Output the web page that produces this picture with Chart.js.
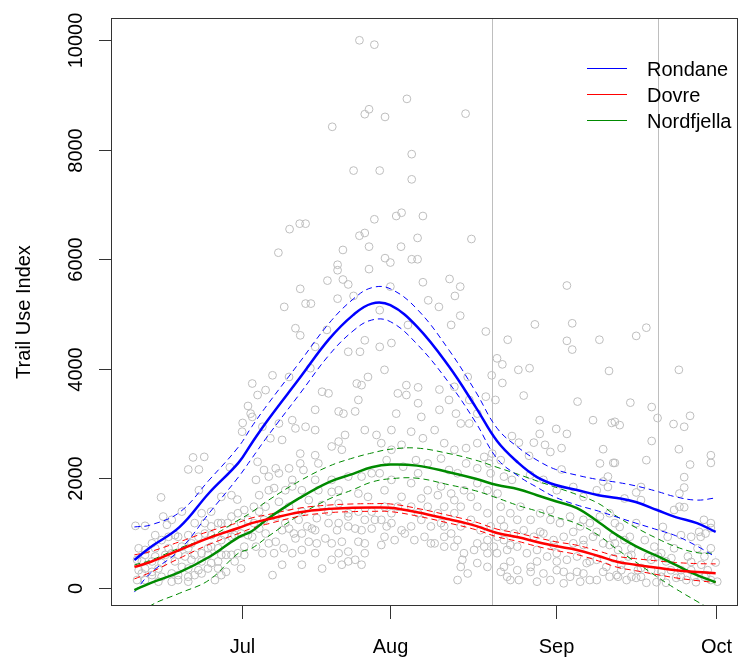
<!DOCTYPE html>
<html>
<head>
<meta charset="utf-8">
<title>Trail Use Index</title>
<script src="https://cdn.jsdelivr.net/npm/chart.js@4.4.1/dist/chart.umd.min.js"></script>
<style>
  html, body { margin: 0; padding: 0; background: #fff; overflow: hidden; }
  canvas { display: block; }
</style>
</head>
<body>
<canvas id="chart" width="742" height="657"></canvas>
<script>
// ---------- data ----------
// x = day number (Aug 1 = 61), y = trail use index
const tickDays = [33.2, 61, 92, 122];
const tickLabels = ["Jul", "Aug", "Sep", "Oct"];
const yTicks = [0, 2000, 4000, 6000, 8000, 10000];
const markerDays = [80, 111.2];

const seriesNames = ["Rondane", "Dovre", "Nordfjella"];
const seriesColors = ["#0000ff", "#ff0000", "#008a00"];

const fitDays = [13, 16, 21.5, 27, 32.5, 35, 38, 44, 49.5, 54, 57.5, 61, 66, 72, 77, 81, 85, 88.5, 92, 96, 100, 103.5, 107, 111, 114.5, 118.5, 122];

const rondaneFit   = [505, 740, 1110, 1730, 2280, 2640, 3060, 3830, 4540, 4980, 5190, 5160, 4770, 4040, 3300, 2680, 2280, 2020, 1875, 1785, 1690, 1640, 1565, 1420, 1290, 1180, 1020];
const rondaneUpper = [1110, 1145, 1380, 1965, 2570, 2940, 3350, 4120, 4830, 5270, 5480, 5460, 5090, 4340, 3580, 2915, 2560, 2330, 2160, 2055, 1975, 1925, 1860, 1760, 1660, 1600, 1640];
const rondaneLower = [-80, 265, 690, 1360, 2020, 2360, 2770, 3540, 4250, 4690, 4890, 4860, 4450, 3740, 3020, 2360, 2040, 1835, 1650, 1510, 1400, 1290, 1180, 1060, 950, 760, 560];

const dovreFit   = [380, 470, 690, 910, 1090, 1180, 1250, 1380, 1440, 1460, 1465, 1460, 1380, 1250, 1130, 1000, 920, 835, 760, 690, 580, 475, 420, 365, 320, 285, 265];
const dovreUpper = [600, 660, 840, 1030, 1190, 1275, 1335, 1455, 1510, 1530, 1535, 1530, 1450, 1320, 1200, 1070, 995, 915, 840, 775, 670, 575, 530, 490, 460, 440, 435];
const dovreLower = [160, 280, 540, 790, 990, 1085, 1165, 1305, 1370, 1390, 1395, 1390, 1310, 1180, 1060, 930, 845, 755, 680, 605, 490, 375, 310, 240, 180, 130, 95];

const nordFit   = [-45, 85, 285, 560, 920, 1030, 1260, 1640, 1930, 2080, 2200, 2250, 2230, 2110, 1990, 1875, 1800, 1690, 1580, 1455, 1200, 960, 760, 580, 415, 230, 100];
const nordUpper = [415, 500, 725, 920, 1235, 1380, 1590, 1950, 2220, 2370, 2460, 2530, 2550, 2450, 2330, 2200, 2070, 1950, 1835, 1700, 1540, 1300, 1100, 900, 750, 640, 630];
const nordLower = [-600, -330, -100, 140, 630, 720, 930, 1330, 1620, 1790, 1930, 1990, 2000, 1880, 1770, 1640, 1500, 1400, 1290, 1170, 960, 700, 470, 200, -20, -250, -450];

// observed daily values [day, index]
const obsPoints = [
  // high values, peak season
  [55.2,10000],[58.0,9920],[64.1,8930],[56.2,8650],[57.0,8740],[60.0,8600],[75.1,8660],[50.1,8420],
  [65.0,7920],[54.1,7620],[59.0,7620],[65.0,7460],[42.1,6550],[44.0,6650],[45.1,6650],[58.0,6730],
  [62.1,6790],[63.1,6850],[67.1,6790],[55.2,6430],[56.2,6480],[66.1,6390],[76.2,6370],[40.0,6120],
  [52.1,6170],[57.0,6230],[63.0,6230],[51.1,5900],[51.1,5800],[60.0,6020],[61.0,5940],[65.0,6000],
  [66.1,6000],[57.0,5820],[49.2,5610],[52.1,5630],[53.1,5540],[67.1,5580],[72.1,5640],[74.1,5500],
  [73.1,5330],[44.1,5460],[41.1,5130],[45.1,5190],[46.1,5190],[51.1,5280],[54.1,5330],[61.0,5500],
  [68.1,5250],[70.1,5130],[74.1,4970],[59.0,5070],
  [43.2,4740],[44.1,4610],[49.1,4710],[53.1,4310],[55.3,4310],[56.2,4520],[59.0,4400],[61.2,4470],
  [64.3,4800],[72.4,4800],[78.9,4680],[46.9,4400],[46.0,4010],[38.9,3880],[42.0,3850],[56.8,3850],
  [59.9,3980],[75.5,3850],
  // late season highs
  [94.1,5520],[88.1,4810],[95.1,4830],[83.0,4530],[94.1,4510],[95.1,4350],[100.2,4530],[107.1,4600],
  [109.0,4750],[81.0,4190],[82.0,4080],[85.0,3980],[87.1,4010],[102.0,3960],[115.1,3980],[80.0,3880],
  [82.0,3740],
  // early season
  [13.2,1130],[15.0,1130],[18.0,1650],[24.0,2380],[26.1,2390],[23.1,2160],[25.1,2160],[33.3,3010],
  [33.2,2850],[34.3,3320],[34.8,3180],[25.1,1780],[30.9,2200],[29.3,1660],[31.2,1690],[32.3,1610],
  [27.4,1390],[25.6,1360],[21.9,1390],[20.0,1240],[18.4,1300],[19.1,1150],[13.5,510],[13.8,320],
  [13.5,140],[14.4,260],[15.0,690],[16.3,810],[18.1,870],[19.4,930],[21.2,930],[21.9,750],
  [23.7,810],[25.0,930],[26.2,990],[27.4,1120],[29.3,1180],[31.2,1300],[32.4,1360],[33.6,1420],
  [34.3,1240],[33.0,990],[31.2,930],[29.3,870],[27.4,750],[25.6,630],[23.7,510],[21.9,380],
  [20.0,260],[18.1,200],[16.3,290],[15.0,140],[21.2,140],[23.1,200],[25.0,320],[27.4,450],
  [30.2,290],[28.1,140],[25.6,260],[30.2,600],[32.4,630],[33.6,750],[18.1,450],[16.9,570],
  [20.0,630],[22.5,570],
  [13.8,720],[16.9,720],[19.4,720],[23.1,720],[26.8,720],[28.7,720],[15.0,600],[18.8,600],
  [21.2,600],[24.3,600],[26.8,600],[29.3,600],[31.2,600],[33.6,600],[14.4,480],[16.3,480],
  [20.6,480],[25.6,480],[28.7,480],[31.8,480],[15.0,350],[17.5,350],[23.1,350],[26.8,350],
  [28.7,350],[33.0,350],[16.3,230],[21.2,230],[24.3,230],[29.3,230],[17.5,110],[20.0,110],
  [23.1,110],[16.9,960],[20.6,960],[23.1,960],[27.4,960],[29.9,960],[31.8,960],[34.3,960],
  [24.3,1180],[26.2,1180],[28.7,1180],[30.5,1180],[33.0,1180],
  // July
  [35.1,3730],[36.1,3520],[37.6,3610],[54.7,3730],[55.6,3700],[48.2,3580],[49.4,3550],[46.9,3250],
  [51.3,3220],[52.2,3180],[54.4,3220],[55.0,3430],[35.1,3120],[37.0,2940],[40.1,3000],[42.6,3060],
  [43.2,2910],[45.1,2940],[46.9,2880],[52.5,2790],[56.2,2880],[58.4,2790],[38.5,2730],[40.7,2700],
  [50.0,2580],[51.3,2670],[51.9,2520],[44.1,2450],[46.9,2420],[36.1,2300],[37.3,2150],[39.5,2180],
  [42.0,2180],[44.1,2270],[44.7,2150],[47.5,2270],[35.8,1970],[38.2,2030],[40.1,2090],[53.1,2030],
  [55.6,2030],[57.5,2090],[42.6,1850],[39.2,1820],[36.4,1690],[45.7,1600],[47.5,1780],[50.0,1750],
  [55.0,1720],[56.8,1660],[35.4,1480],[37.6,1480],[40.1,1570],[42.0,1480],[48.2,1510],[51.3,1540],
  [53.1,1360],[35.4,1180],[37.3,1240],[39.5,1300],[41.3,1180],[43.8,1240],[45.4,1120],[47.2,1270],
  [49.4,1180],[51.3,1180],[53.1,1300],[56.2,1240],[58.1,1240],[35.1,930],[37.6,990],[40.7,1050],
  [42.9,990],[44.4,990],[46.9,1050],[48.8,900],[51.0,1050],[53.1,1120],[55.6,1050],[35.8,750],
  [38.2,810],[41.0,720],[43.2,900],[44.4,690],[47.2,810],[50.0,810],[53.1,660],[54.4,510],
  [56.2,810],[39.2,630],[38.9,230],[48.2,350],[50.0,510],[53.1,480],
  [36.4,1390],[44.4,1390],[49.4,1390],[55.0,1390],[57.5,1390],[36.4,1080],[42.0,1080],[46.3,1080],
  [54.4,1080],[57.5,1080],[39.5,840],[45.7,840],[51.9,840],[55.0,840],[37.0,630],[42.6,630],
  [46.9,630],[51.3,630],[56.2,630],[40.7,420],[44.4,420],[51.9,420],[55.6,420],[38.2,1780],
  [41.3,1780],[44.4,1780],[51.3,1780],[42.6,1970],[46.9,1970],[50.0,1970],
  // August
  [64.0,3700],[66.2,3660],[62.4,3550],[64.0,3520],[70.2,3620],[73.0,3670],[72.0,3430],[75.8,3430],
  [78.9,3490],[80.7,3430],[66.2,3370],[62.1,3180],[66.8,3120],[70.2,3250],[73.3,3180],[77.3,3180],
  [74.2,3000],[75.8,3000],[64.9,2850],[67.1,2730],[71.1,2640],[73.0,2520],[75.2,2550],[77.3,2640],
  [78.6,2390],[80.1,2450],[59.3,2640],[61.2,2520],[63.1,2610],[60.3,2330],[63.4,2210],[65.8,2330],
  [68.0,2270],[70.5,2360],[72.0,2150],[75.2,2270],[77.3,2180],[79.5,2270],[81.7,2330],[59.0,2090],
  [61.2,1970],[64.9,1910],[68.0,1780],[70.5,1850],[72.4,1720],[74.8,1780],[77.3,1910],[79.2,1780],
  [81.1,1720],[63.1,1660],[66.8,1630],[69.9,1690],[73.0,1600],[76.1,1660],[59.9,1780],[59.3,1240],
  [61.2,1180],[63.1,1050],[64.9,1120],[66.8,1240],[68.6,1120],[70.5,1180],[72.4,990],[74.2,1120],
  [76.1,1240],[77.9,1050],[79.8,1120],[81.7,1240],[59.9,930],[61.8,870],[63.7,990],[65.5,870],
  [67.4,930],[69.3,810],[71.1,930],[73.6,870],[77.3,810],[79.2,870],[81.1,930],[74.8,630],
  [76.7,690],[78.6,750],[80.4,750],[82.3,870],[74.2,380],[75.5,260],[77.3,450],[79.2,380],
  [73.6,140],[74.5,510],[59.3,780],[68.6,810],
  [59.9,1480],[62.4,1480],[64.9,1480],[68.0,1480],[71.1,1480],[74.2,1480],[77.3,1480],[61.2,1360],
  [66.2,1360],[69.9,1360],[73.0,1360],[79.2,1360],[79.2,630],[81.0,630],[60.3,1120],[71.1,1120],
  [66.2,2090],[73.6,2090],[79.8,2090],[61.2,2880],[69.3,2880],[71.1,750],[73.0,750],
  // September
  [86.0,3510],[96.1,3400],[89.0,3060],[92.1,2900],[94.1,2810],[99.0,3060],[102.5,3010],[89.0,2810],
  [83.8,2770],[85.1,2650],[87.9,2650],[90.0,2610],[91.0,2480],[93.1,2550],[100.9,2530],[87.0,2410],
  [93.1,2160],[100.3,2270],[102.8,2280],[101.8,2030],[100.9,1940],[99.7,1780],[101.8,1840],[82.3,2030],
  [83.8,1970],[87.2,2060],[89.7,1970],[92.2,1780],[95.3,1840],[97.2,1660],
  [81.7,1480],[83.5,1360],[85.4,1480],[87.3,1240],[89.1,1360],[91.0,1420],[92.8,1180],[94.7,1300],
  [96.6,1120],[98.4,1180],[100.3,1300],[102.1,1360],[82.3,1120],[84.2,990],[86.0,1050],[87.9,930],
  [89.7,990],[91.6,870],[93.5,930],[95.3,810],[97.2,870],[99.0,930],[100.9,810],[102.8,930],
  [82.9,690],[84.8,750],[86.6,630],[88.5,690],[90.4,570],[92.2,630],[94.1,510],[96.0,570],
  [97.8,450],[99.7,510],[101.5,380],[82.3,380],[84.8,320],[87.3,380],[89.7,260],[92.2,320],
  [94.7,200],[97.2,260],[99.7,140],[102.1,200],[88.5,110],[91.0,140],[93.5,80],[96.6,110],
  [85.1,140],[82.9,200],
  [83.5,480],[88.5,480],[92.2,480],[98.4,480],[81.7,290],[87.3,290],[93.5,290],[96.0,290],
  [100.9,290],[83.5,780],[91.6,780],[97.2,780],[102.1,780],[89.1,1020],[95.3,1020],[99.7,1020],
  [84.8,1240],[91.0,1240],[97.2,1240],[83.5,140],[98.4,140],
  // late September
  [106.0,3380],[110.0,3300],[111.1,3100],[117.2,3140],[114.1,2990],[116.1,2940],[103.1,3030],[104.0,2970],
  [110.0,2680],[115.1,2530],[121.1,2420],[121.1,2280],[109.0,2330],[103.1,2280],[117.2,2250],[116.1,2020],
  [116.1,1830],[108.0,1840],[107.1,1740],[108.0,1600],[115.2,1720],[104.9,1630],[114.2,1420],[115.2,1480],
  [116.1,1470],[119.8,1240],[121.1,1180],[118.9,1020],[120.1,990],[121.1,1090],[112.1,1110],[115.5,960],
  [119.2,930],[103.1,1180],[104.0,1110],[107.1,1180],[103.1,810],[104.9,870],[103.7,690],[102.8,540],
  [108.7,870],[110.5,750],[109.3,570],[111.8,630],[112.7,480],[122.0,460],[121.1,140],[122.3,110],
  [103.4,230],[105.3,140],[107.1,180],[109.0,90],[110.9,100],[112.7,90],[114.6,180],[116.5,140],
  [118.3,100],[120.2,230],[104.3,420],[108.0,360],[111.8,290],[115.5,320],[119.3,420],[106.2,600],
  [109.9,510],[113.7,540],[117.4,470],
  [103.7,200],[106.2,200],[108.0,200],[111.8,200],[115.5,200],[118.0,200],[119.9,200],[104.3,320],
  [107.4,320],[109.9,320],[113.6,320],[117.4,320],[120.5,320],[105.6,570],[111.2,570],[116.8,570],
  [119.9,570],[106.2,720],[114.2,720],[118.6,720],[121.1,720],[105.9,930],[113.0,930],[117.4,930]
];

// ---------- helpers ----------
const toXY = (xs, ys) => xs.map((x, i) => ({ x, y: ys[i] }));
const FONT = '20px "Liberation Sans", Arial, sans-serif';

function fitLine(values, color, width, dashed) {
  return {
    data: toXY(fitDays, values),
    showLine: true,
    borderColor: color,
    borderWidth: width,
    borderDash: dashed ? [6, 4] : [],
    pointRadius: 0,
    tension: 0.4,
    fill: false,
    order: dashed ? 2 : 1,
  };
}

// ---------- plugin: frame, ticks, labels, legend ----------
const frame = {
  id: "frame",
  beforeDatasetsDraw(chart) {
    const { ctx, chartArea: a, scales: { x } } = chart;
    ctx.save();
    ctx.strokeStyle = "#bebebe";
    ctx.lineWidth = 1;
    markerDays.forEach((d) => {
      const px = Math.round(x.getPixelForValue(d)) + 0.5;
      ctx.beginPath();
      ctx.moveTo(px, a.top);
      ctx.lineTo(px, a.bottom);
      ctx.stroke();
    });
    ctx.restore();
  },
  afterDraw(chart) {
    const { ctx, chartArea: a, scales: { x, y } } = chart;
    ctx.save();
    ctx.strokeStyle = "#333";
    ctx.lineWidth = 1;
    // box; right side falls just outside the canvas, as in the original
    ctx.strokeRect(a.left - 0.5, a.top - 0.5, a.right - a.left + 1, a.bottom - a.top + 1);

    ctx.fillStyle = "#000";
    ctx.font = FONT;

    // x axis
    ctx.textAlign = "center";
    ctx.textBaseline = "alphabetic";
    tickDays.forEach((d, i) => {
      const px = Math.round(x.getPixelForValue(d)) + 0.5;
      ctx.beginPath();
      ctx.moveTo(px, a.bottom);
      ctx.lineTo(px, a.bottom + 14);
      ctx.stroke();
      ctx.fillText(tickLabels[i], px, 653);
    });

    // y axis
    yTicks.forEach((v) => {
      const py = Math.round(y.getPixelForValue(v)) + 0.5;
      ctx.beginPath();
      ctx.moveTo(a.left, py);
      ctx.lineTo(a.left - 13, py);
      ctx.stroke();
      ctx.save();
      ctx.translate(82, py);
      ctx.rotate(-Math.PI / 2);
      ctx.fillText(String(v), 0, 0);
      ctx.restore();
    });

    ctx.save();
    ctx.translate(30, (a.top + a.bottom) / 2);
    ctx.rotate(-Math.PI / 2);
    ctx.fillText("Trail Use Index", 0, 0);
    ctx.restore();

    // legend
    ctx.textAlign = "left";
    seriesNames.forEach((name, i) => {
      const ly = 68 + i * 26;
      ctx.strokeStyle = seriesColors[i];
      ctx.beginPath();
      ctx.moveTo(587, ly + 0.5);
      ctx.lineTo(627, ly + 0.5);
      ctx.stroke();
      ctx.fillText(name, 647, ly + 8);
    });
    ctx.restore();
  },
};

// ---------- chart ----------
const datasets = [
  fitLine(rondaneFit, seriesColors[0], 2.5, false),
  fitLine(dovreFit, seriesColors[1], 2.5, false),
  fitLine(nordFit, seriesColors[2], 2.5, false),
  fitLine(rondaneUpper, seriesColors[0], 1, true),
  fitLine(rondaneLower, seriesColors[0], 1, true),
  fitLine(dovreUpper, seriesColors[1], 1, true),
  fitLine(dovreLower, seriesColors[1], 1, true),
  fitLine(nordUpper, seriesColors[2], 1, true),
  fitLine(nordLower, seriesColors[2], 1, true),
  {
    data: obsPoints.map(([x, y]) => ({ x, y })),
    pointRadius: 3.9,
    pointBorderWidth: 1,
    borderColor: "#bebebe",
    backgroundColor: "rgba(0,0,0,0)",
    pointBackgroundColor: "rgba(0,0,0,0)",
    pointBorderColor: "#bebebe",
    showLine: false,
    order: 10,
  },
];

new Chart(document.getElementById("chart").getContext("2d"), {
  type: "scatter",
  data: { datasets },
  options: {
    responsive: false,
    animation: false,
    layout: { padding: { left: 112, top: 19, right: 0, bottom: 52 } },
    scales: {
      x: { type: "linear", display: false, min: 8.8, max: 126 },
      y: { type: "linear", display: false, min: -316, max: 10389 },
    },
    plugins: { legend: { display: false }, tooltip: { enabled: false } },
  },
  plugins: [frame],
});
</script>
</body>
</html>
